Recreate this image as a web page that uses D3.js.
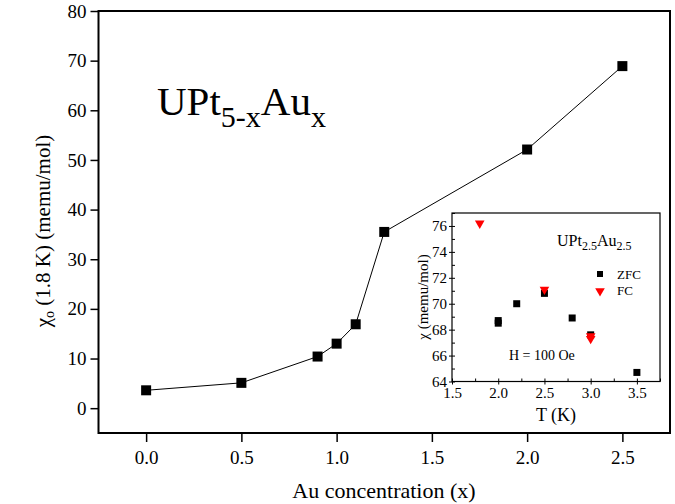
<!DOCTYPE html>
<html>
<head>
<meta charset="utf-8">
<script src="https://cdn.jsdelivr.net/npm/d3@7"></script>
<style>
  body { margin: 0; background: #fff; }
</style>
</head>
<body>
<script>
// main data: chi_0 at 1.8 K vs Au concentration
const auX = [0, 0.5, 0.9, 1.0, 1.1, 1.25, 2.0, 2.5];
const chi0 = [3.6, 5.1, 10.4, 13.0, 16.9, 35.5, 52.1, 68.9];

// inset: UPt2.5Au2.5
const zfcT = [2.0, 2.0, 2.2, 2.5, 2.8, 3.0, 3.5];
const zfcChi = [68.5, 68.7, 70.0, 70.8, 68.9, 67.6, 64.7];
const fcT = [1.8, 2.5, 3.0, 3.0];
const fcChi = [76.2, 71.1, 67.5, 67.3];

const SERIF = "Liberation Serif";
const W = 675, H = 504;
const svg = d3.select("body").append("svg")
    .attr("width", W)
    .attr("height", H)
    .attr("font-family", SERIF);

// main plot
const x = d3.scaleLinear().domain([-0.25, 2.75]).range([98.5, 670]);
const y = d3.scaleLinear().domain([-5, 80]).range([433, 11]);

const xAxis = d3.axisBottom(x).tickValues(d3.range(0, 2.51, 0.5))
    .tickFormat(d3.format(".1f")).tickSize(9).tickPadding(9);
const xMinor = d3.axisBottom(x).tickValues(d3.range(-0.2, 2.71, 0.1))
    .tickFormat("").tickSize(5);
const yAxis = d3.axisLeft(y).tickValues(d3.range(0, 81, 10)).tickSize(8).tickPadding(4);
const yMinor = d3.axisLeft(y).tickValues(d3.range(-5, 80, 5)).tickFormat("").tickSize(4);

const gx = svg.append("g").attr("transform", "translate(0,433)");
gx.call(xMinor);
gx.call(xAxis);
const gy = svg.append("g").attr("transform", "translate(98.5,0)");
gy.call(yMinor);
gy.call(yAxis);
gx.attr("font-family", SERIF).attr("font-size", 19);
gy.attr("font-family", SERIF).attr("font-size", 19);

svg.selectAll(".domain").remove();
svg.selectAll(".tick line").attr("stroke", "#000").attr("stroke-width", 1.5);
svg.selectAll(".tick text").attr("fill", "#000");

// frame
svg.append("rect")
    .attr("x", 98.5).attr("y", 11)
    .attr("width", 670 - 98.5).attr("height", 433 - 11)
    .attr("fill", "none").attr("stroke", "#000").attr("stroke-width", 2);

const pts = auX.map((v, i) => [v, chi0[i]]);
svg.append("path")
    .datum(pts)
    .attr("fill", "none").attr("stroke", "#000").attr("stroke-width", 1)
    .attr("d", d3.line().x(d => x(d[0])).y(d => y(d[1])));

svg.selectAll(".sq").data(pts).enter().append("rect")
    .attr("x", d => x(d[0]) - 5).attr("y", d => y(d[1]) - 5)
    .attr("width", 10).attr("height", 10).attr("fill", "#000");

// axis titles
svg.append("text")
    .attr("x", 384).attr("y", 498)
    .attr("text-anchor", "middle").attr("font-size", 22)
    .text("Au concentration (x)");

const yt = svg.append("text")
    .attr("transform", "translate(50,231) rotate(-90)")
    .attr("text-anchor", "middle").attr("font-size", 21);
yt.append("tspan").text("χ");
yt.append("tspan").attr("font-size", 14).attr("dy", 4).text("o");
yt.append("tspan").attr("dy", -4).text(" (1.8 K) (memu/mol)");

const t = svg.append("text").attr("x", 157).attr("y", 115).attr("font-size", 41);
t.append("tspan").text("UPt");
t.append("tspan").attr("font-size", 30).attr("dy", 12).text("5-x");
t.append("tspan").attr("dy", -12).text("Au");
t.append("tspan").attr("font-size", 30).attr("dy", 12).text("x");

// inset
const ix = d3.scaleLinear().domain([1.5, 3.75]).range([452, 660]);
const iy = d3.scaleLinear().domain([64, 77]).range([381.5, 213]);

const ig = svg.append("g");
const ixAxis = d3.axisBottom(ix).tickValues(d3.range(1.5, 3.51, 0.5))
    .tickFormat(d3.format(".1f")).tickSize(3).tickPadding(3);
const ixMinor = d3.axisTop(ix).tickValues(d3.range(1.5, 3.76, 0.25)).tickFormat("").tickSize(3);
const iyAxis = d3.axisLeft(iy).tickValues(d3.range(64, 76.1, 2)).tickSize(3).tickPadding(2);
const iyMinor = d3.axisRight(iy).tickValues(d3.range(64, 77.1, 1)).tickFormat("").tickSize(3);

ig.append("g").attr("transform", "translate(0,381.5)").call(ixAxis);
ig.append("g").attr("transform", "translate(0,381.5)").call(ixMinor);
ig.append("g").attr("transform", "translate(452,0)").call(iyAxis);
ig.append("g").attr("transform", "translate(452,0)").call(iyMinor);
ig.selectAll("g").attr("font-family", SERIF).attr("font-size", 15);
ig.selectAll(".domain").remove();
ig.selectAll(".tick line").attr("stroke", "#000").attr("stroke-width", 1);
ig.selectAll(".tick text").attr("fill", "#000");

ig.append("rect")
    .attr("x", 452).attr("y", 213)
    .attr("width", 660 - 452).attr("height", 381.5 - 213)
    .attr("fill", "none").attr("stroke", "#000").attr("stroke-width", 1.2);

ig.append("text")
    .attr("x", 556).attr("y", 421)
    .attr("text-anchor", "middle").attr("font-size", 18)
    .text("T (K)");

ig.append("text")
    .attr("transform", "translate(428,297) rotate(-90)")
    .attr("text-anchor", "middle").attr("font-size", 15)
    .text("χ (memu/mol)");

const zfc = zfcT.map((v, i) => [v, zfcChi[i]]);
const fc = fcT.map((v, i) => [v, fcChi[i]]);

ig.selectAll(".zfc").data(zfc).enter().append("rect")
    .attr("x", d => ix(d[0]) - 3.5).attr("y", d => iy(d[1]) - 3.5)
    .attr("width", 7).attr("height", 7).attr("fill", "#000");

const tri = d3.symbol().type(d3.symbolTriangle).size(40);
ig.selectAll(".fc").data(fc).enter().append("path")
    .attr("d", tri)
    .attr("transform", d => `translate(${ix(d[0])},${iy(d[1])}) rotate(180)`)
    .attr("fill", "#ff0000");

// inset legend
ig.append("rect").attr("x", 597).attr("y", 271).attr("width", 6).attr("height", 6).attr("fill", "#000");
ig.append("text").attr("x", 617).attr("y", 279).attr("font-size", 13).text("ZFC");
ig.append("path").attr("d", tri).attr("transform", "translate(600,291) rotate(180)").attr("fill", "#ff0000");
ig.append("text").attr("x", 617).attr("y", 295).attr("font-size", 13).text("FC");

const il = ig.append("text").attr("x", 557).attr("y", 246).attr("font-size", 16);
il.append("tspan").text("UPt");
il.append("tspan").attr("font-size", 12).attr("dy", 4).text("2.5");
il.append("tspan").attr("dy", -4).text("Au");
il.append("tspan").attr("font-size", 12).attr("dy", 4).text("2.5");

ig.append("text").attr("x", 509).attr("y", 360).attr("font-size", 14).text("H = 100 Oe");
</script>
</body>
</html>
